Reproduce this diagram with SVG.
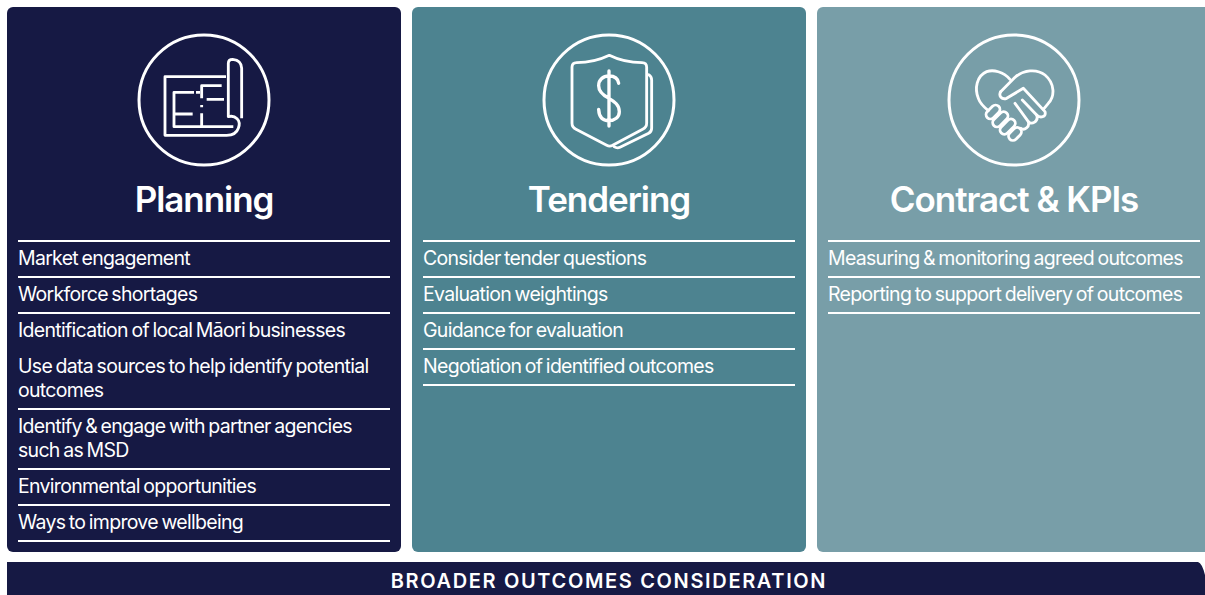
<svg xmlns="http://www.w3.org/2000/svg" width="1205" height="595" viewBox="0 0 1205 595">
<style>
.t{font-family:Inter,"Liberation Sans",sans-serif;font-weight:600;font-size:35px;fill:#fff;text-anchor:middle;letter-spacing:-1.05px}
.i{font-family:Inter,"Liberation Sans",sans-serif;font-weight:400;font-size:19.5px;fill:#fff;letter-spacing:-0.7px;word-spacing:-1.3px}
.r{stroke:#fff;stroke-width:2.2;fill:none}
.c{stroke:#fff;stroke-width:3;fill:none}
.g{stroke:#fff;stroke-width:8.5;fill:none;stroke-linejoin:round;stroke-linecap:round}
.d{stroke-width:10}
.b{stroke-linecap:butt}
</style>
<rect width="1205" height="595" fill="#fff"/>
<g id="planning">
<rect x="7" y="7" width="394" height="545" rx="6" fill="#161944"/>
<circle class="c" cx="204" cy="100" r="65"/>
<g transform="translate(120,20) scale(.3333)">
<path class="g b" d="M318 170H135V346H320C335 346 350 340 355 325C365 300 345 285 325 290V130C325 122 330 118 338 118C355 120 365 130 365 145V295"/>
<path class="g b" d="M222 217H162V320H340M162 282H218M228 217H240M245 235V197H305M260 238H312M245 280V320M245 255V262"/>
</g>
<text class="t" x="204" y="212">Planning</text>
<g class="r"><path d="M18 241H390M18 277H390M18 313H390M18 409H390M18 469H390M18 505H390M18 541H390"/></g>
<text class="i" x="18" y="265">Market engagement</text>
<text class="i" x="18" y="301">Workforce shortages</text>
<text class="i" x="18" y="337">Identification of local Māori businesses</text>
<text class="i" x="18" y="373">Use data sources to help identify potential</text>
<text class="i" x="18" y="397">outcomes</text>
<text class="i" x="18" y="433">Identify &amp; engage with partner agencies</text>
<text class="i" x="18" y="457">such as MSD</text>
<text class="i" x="18" y="493">Environmental opportunities</text>
<text class="i" x="18" y="529">Ways to improve wellbeing</text>
</g>
<g id="tendering">
<rect x="412" y="7" width="394" height="545" rx="6" fill="#4d8390"/>
<circle class="c" cx="609" cy="100" r="65"/>
<g transform="translate(530,20) scale(.3333)">
<path class="g" d="M238 106C205 122 175 128 140 128C130 128 126 134 126 142V310C126 318 130 324 138 328L230 376C236 379 242 379 248 376L338 328C346 324 350 318 350 310V142C350 134 346 128 336 128C300 128 270 122 238 106Z"/>
<path class="g" d="M356 164C362 168 365 172 365 180V325C365 332 362 337 356 340L270 382C264 385 258 384 252 380"/>
<path class="g d" d="M266 190C264 175 252 168 237 168C218 168 206 180 206 197C206 215 220 226 237 235C254 245 268 255 268 275C268 292 254 302 237 302C218 302 207 290 206 268M237 153V318"/>
</g>
<text class="t" x="609" y="212">Tendering</text>
<g class="r"><path d="M423 241H795M423 277H795M423 313H795M423 349H795M423 385H795"/></g>
<text class="i" x="423" y="265">Consider tender questions</text>
<text class="i" x="423" y="301">Evaluation weightings</text>
<text class="i" x="423" y="337">Guidance for evaluation</text>
<text class="i" x="423" y="373">Negotiation of identified outcomes</text>
</g>
<g id="contract">
<rect x="817" y="7" width="394" height="545" rx="6" fill="#789ea8"/>
<circle class="c" cx="1014" cy="100" r="65"/>
<g transform="translate(935,20) scale(.3333)">
<path class="g" d="M225 178C205 155 175 148 155 155C125 168 118 205 130 235C135 250 148 262 160 272"/>
<path class="g" d="M197 215L240 172C265 150 305 145 330 165C360 190 360 230 340 250L325 268"/>
<path class="g" d="M197 215C190 228 200 240 215 235L265 205L330 275C335 292 315 295 305 285C312 305 290 315 280 305C285 322 268 332 258 325"/>
<path class="g" d="M240 250L280 305M262 240L305 285"/>
<g class="g">
<rect x="-24" y="-13" width="48" height="26" rx="13" transform="translate(174,276) rotate(-45)"/>
<rect x="-27" y="-13" width="54" height="26" rx="13" transform="translate(196,298) rotate(-45)"/>
<rect x="-27" y="-13" width="54" height="26" rx="13" transform="translate(218,320) rotate(-45)"/>
<rect x="-22" y="-13" width="44" height="26" rx="13" transform="translate(240,342) rotate(-45)"/>
</g>
</g>
<text class="t" x="1014" y="212">Contract &amp; KPIs</text>
<g class="r"><path d="M828 241H1200M828 277H1200M828 313H1200"/></g>
<text class="i" x="828" y="265">Measuring &amp; monitoring agreed outcomes</text>
<text class="i" x="828" y="301">Reporting to support delivery of outcomes</text>
</g>
<g id="broader-outcomes">
<path d="M7 562H1198Q1202 563 1205 575V595H7Z" fill="#161944"/>
<text x="609" y="588" text-anchor="middle" font-family="Inter,'Liberation Sans',sans-serif" font-weight="600" font-size="20px" letter-spacing="1.65" fill="#fff">BROADER OUTCOMES CONSIDERATION</text>
</g>
</svg>
